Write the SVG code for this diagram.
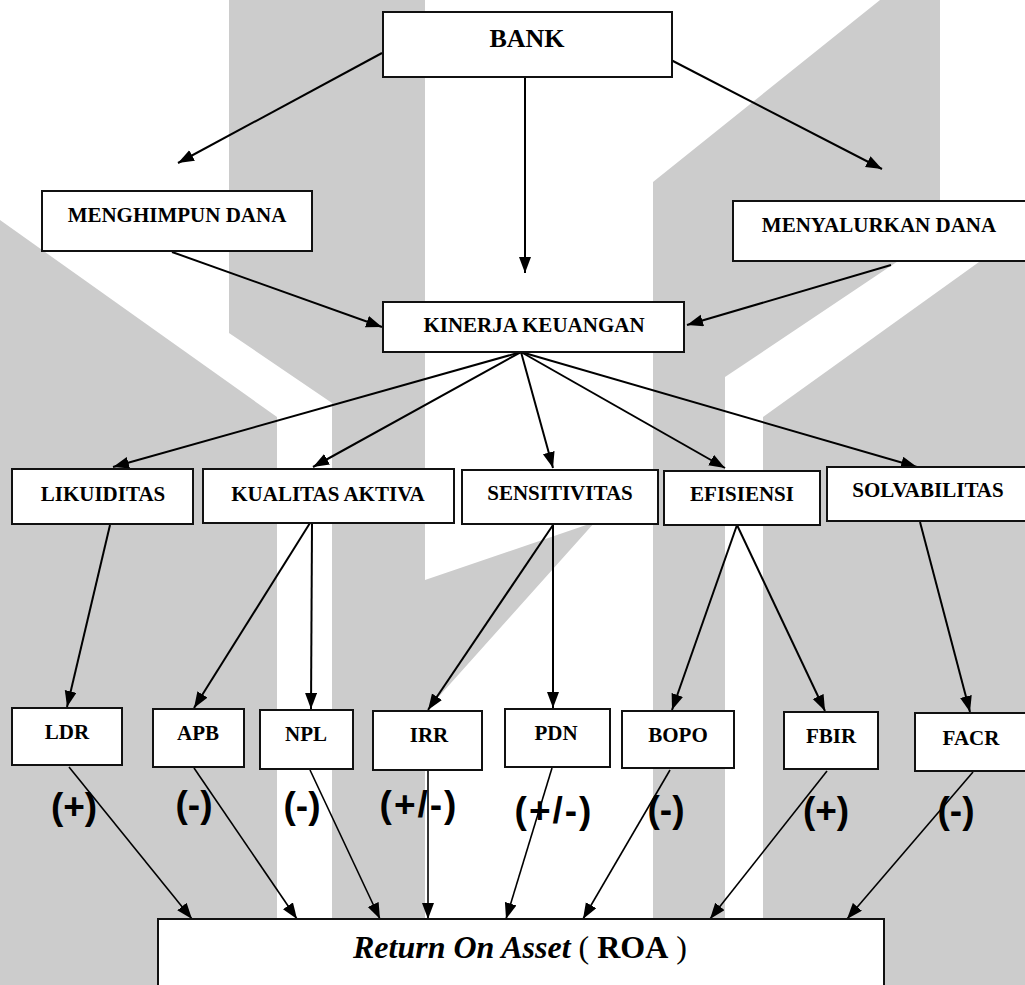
<svg xmlns="http://www.w3.org/2000/svg" width="1025" height="985" viewBox="0 0 1025 985">
<style>
.wm{fill:#cccccc;stroke:none}
.box{fill:#ffffff;stroke:#111111;stroke-width:2}
.t{font-family:"Liberation Serif","Times New Roman",serif;font-weight:bold;font-size:21px;fill:#000;text-anchor:middle}
.big{font-size:26px}
.roa{font-family:"Liberation Serif","Times New Roman",serif;font-size:32px;fill:#000;text-anchor:middle}
.sg{font-family:"Liberation Sans",Arial,sans-serif;font-weight:bold;font-size:37px;fill:#000;text-anchor:middle}
.c line{stroke:#000;stroke-width:2;marker-end:url(#ah)}
.c .thin{stroke-width:1.6}
</style>
<defs>
<marker id="ah" markerUnits="userSpaceOnUse" markerWidth="17" markerHeight="13" refX="16" refY="6" orient="auto">
<path d="M0,0 L16,6 L0,12 Z" fill="#000"/>
</marker>
</defs>
<rect x="0" y="0" width="1025" height="985" fill="#ffffff"/>
<g id="watermark">
<polygon class="wm" points="0,220 277,417 277,985 0,985"/>
<polygon class="wm" points="229,0 425,0 425,580 595,522 425,712 425,985 332,985 332,403 229,333"/>
<polygon class="wm" points="653,182 880,0 940,0 940,233 725,377 725,985 653,985"/>
<polygon class="wm" points="1025,229 763,417 763,985 1025,985"/>
</g>
<g id="connectors" class="c">
<line x1="382" y1="53" x2="178" y2="163"/>
<line x1="671" y1="60" x2="882" y2="169"/>
<line x1="525" y1="78" x2="525" y2="273"/>
<line x1="172" y1="252" x2="382" y2="327"/>
<line x1="891" y1="265" x2="687" y2="325"/>
<line x1="521" y1="352" x2="113" y2="467"/>
<line x1="521" y1="352" x2="313" y2="467"/>
<line x1="521" y1="352" x2="553" y2="468"/>
<line x1="521" y1="352" x2="725" y2="468"/>
<line x1="521" y1="352" x2="917" y2="467"/>
<line x1="110" y1="525" x2="67" y2="707"/>
<line x1="310" y1="523" x2="194" y2="708"/>
<line x1="312" y1="523" x2="311" y2="709"/>
<line x1="553" y1="525" x2="428" y2="710"/>
<line x1="553" y1="525" x2="553" y2="708"/>
<line x1="737" y1="525" x2="672" y2="710"/>
<line x1="737" y1="525" x2="825" y2="711"/>
<line x1="920" y1="522" x2="970" y2="712"/>
<line class="thin" x1="69" y1="767" x2="192" y2="919"/>
<line class="thin" x1="194" y1="768" x2="297" y2="919"/>
<line class="thin" x1="310" y1="770" x2="380" y2="919"/>
<line class="thin" x1="428" y1="771" x2="428" y2="919"/>
<line class="thin" x1="552" y1="768" x2="506" y2="919"/>
<line class="thin" x1="670" y1="770" x2="583" y2="919"/>
<line class="thin" x1="827" y1="771" x2="710" y2="919"/>
<line class="thin" x1="973" y1="772" x2="847" y2="919"/>
</g>
<g id="bank"><rect class="box" x="383" y="12" width="289" height="65"/><text class="t big" x="527" y="47">BANK</text></g>
<g id="menghimpun"><rect class="box" x="42" y="191" width="270" height="60"/><text class="t" x="177" y="222">MENGHIMPUN DANA</text></g>
<g id="menyalurkan"><rect class="box" x="733" y="201" width="300" height="60"/><text class="t" x="879" y="232">MENYALURKAN DANA</text></g>
<g id="kinerja"><rect class="box" x="383" y="302" width="301" height="50"/><text class="t" x="534" y="332">KINERJA KEUANGAN</text></g>
<g id="likuiditas"><rect class="box" x="12" y="469" width="181" height="55"/><text class="t" x="103" y="501">LIKUIDITAS</text></g>
<g id="kualitas"><rect class="box" x="203" y="469" width="251" height="54"/><text class="t" x="328" y="501">KUALITAS AKTIVA</text></g>
<g id="sensitivitas"><rect class="box" x="462" y="470" width="196" height="54"/><text class="t" x="560" y="500">SENSITIVITAS</text></g>
<g id="efisiensi"><rect class="box" x="664" y="471" width="156" height="54"/><text class="t" x="742" y="501">EFISIENSI</text></g>
<g id="solvabilitas"><rect class="box" x="827" y="467" width="210" height="54"/><text class="t" x="928" y="497">SOLVABILITAS</text></g>
<g id="ldr"><rect class="box" x="12" y="708" width="110" height="57"/><text class="t" x="67" y="739">LDR</text></g>
<g id="apb"><rect class="box" x="153" y="709" width="91" height="58"/><text class="t" x="198" y="740">APB</text></g>
<g id="npl"><rect class="box" x="260" y="710" width="93" height="59"/><text class="t" x="306" y="741">NPL</text></g>
<g id="irr"><rect class="box" x="373" y="711" width="109" height="59"/><text class="t" x="429" y="742">IRR</text></g>
<g id="pdn"><rect class="box" x="505" y="709" width="105" height="58"/><text class="t" x="556" y="740">PDN</text></g>
<g id="bopo"><rect class="box" x="622" y="711" width="112" height="57"/><text class="t" x="678" y="742">BOPO</text></g>
<g id="fbir"><rect class="box" x="784" y="712" width="94" height="57"/><text class="t" x="831" y="743">FBIR</text></g>
<g id="facr"><rect class="box" x="915" y="713" width="120" height="58"/><text class="t" x="971" y="745">FACR</text></g>
<g id="roa"><rect class="box" x="158" y="919" width="726" height="80"/><text class="roa" x="520" y="958"><tspan font-family="Liberation Serif, serif" font-style="italic" font-weight="bold">Return On Asset</tspan> ( <tspan font-weight="bold">ROA</tspan> )</text></g>
<g id="signs">
<text class="sg" x="74" y="819">(+)</text>
<text class="sg" x="194" y="817">(-)</text>
<text class="sg" x="302" y="818">(-)</text>
<text class="sg" x="419" y="817" letter-spacing="2">(+/-)</text>
<text class="sg" x="554" y="823" letter-spacing="2">(+/-)</text>
<text class="sg" x="666" y="822">(-)</text>
<text class="sg" x="826" y="823">(+)</text>
<text class="sg" x="956" y="823">(-)</text>
</g>
</svg>
